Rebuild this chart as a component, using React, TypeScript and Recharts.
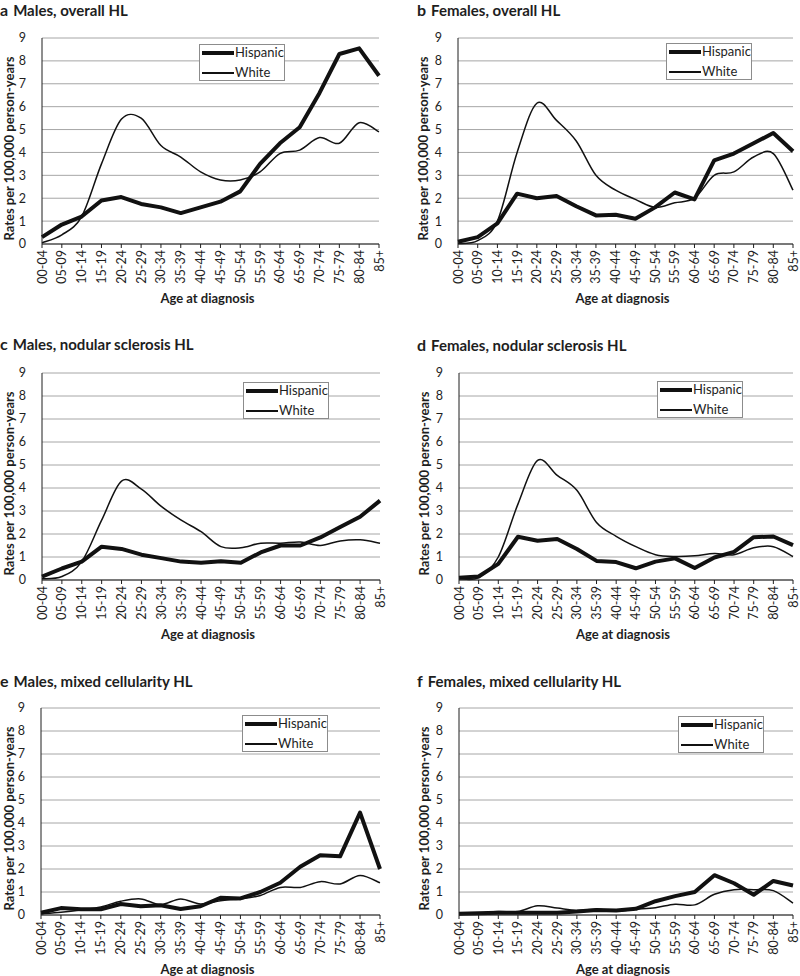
import { LineChart, Line, XAxis, YAxis, CartesianGrid } from 'recharts'

const ages = ['00-04', '05-09', '10-14', '15-19', '20-24', '25-29', '30-34', '35-39', '40-44', '45-49', '50-54', '55-59', '60-64', '65-69', '70-74', '75-79', '80-84', '85+']
const yTicks = [0, 1, 2, 3, 4, 5, 6, 7, 8, 9]

// a: males, overall
const aHispanic = [0.3, 0.85, 1.2, 1.9, 2.05, 1.75, 1.6, 1.35, 1.6, 1.85, 2.3, 3.5, 4.4, 5.1, 6.6, 8.3, 8.55, 7.35]
const aWhite = [0.05, 0.4, 1.2, 3.5, 5.45, 5.5, 4.3, 3.8, 3.15, 2.8, 2.8, 3.15, 3.95, 4.1, 4.65, 4.4, 5.3, 4.9]
// b: females, overall
const bHispanic = [0.1, 0.3, 0.9, 2.2, 2.0, 2.1, 1.65, 1.25, 1.28, 1.1, 1.6, 2.25, 1.95, 3.65, 3.95, 4.4, 4.85, 4.05]
const bWhite = [0.02, 0.15, 1.0, 4.0, 6.15, 5.4, 4.5, 3.0, 2.35, 1.95, 1.6, 1.8, 2.0, 3.0, 3.15, 3.8, 3.95, 2.35]
// c: males, nodular sclerosis
const cHispanic = [0.15, 0.5, 0.8, 1.45, 1.35, 1.1, 0.95, 0.8, 0.75, 0.82, 0.75, 1.2, 1.5, 1.5, 1.85, 2.3, 2.75, 3.45]
const cWhite = [0.05, 0.15, 0.8, 2.6, 4.3, 3.95, 3.2, 2.6, 2.1, 1.45, 1.4, 1.6, 1.6, 1.65, 1.5, 1.7, 1.75, 1.6]
// d: females, nodular sclerosis
const dHispanic = [0.1, 0.15, 0.7, 1.88, 1.71, 1.78, 1.35, 0.83, 0.78, 0.51, 0.8, 0.94, 0.52, 0.98, 1.22, 1.86, 1.89, 1.52]
const dWhite = [0.05, 0.1, 1.0, 3.3, 5.2, 4.55, 3.9, 2.5, 1.9, 1.45, 1.1, 1.02, 1.05, 1.15, 1.1, 1.4, 1.45, 1.02]
// e: males, mixed cellularity
const eHispanic = [0.1, 0.3, 0.25, 0.25, 0.48, 0.38, 0.42, 0.26, 0.38, 0.75, 0.72, 1.0, 1.4, 2.1, 2.6, 2.55, 4.45, 2.0]
const eWhite = [0.05, 0.12, 0.22, 0.35, 0.6, 0.7, 0.45, 0.7, 0.48, 0.62, 0.7, 0.85, 1.2, 1.2, 1.45, 1.35, 1.72, 1.4]
// f: females, mixed cellularity
const fHispanic = [0.05, 0.08, 0.1, 0.1, 0.1, 0.1, 0.15, 0.22, 0.2, 0.27, 0.6, 0.82, 1.0, 1.73, 1.38, 0.88, 1.48, 1.28]
const fWhite = [0.02, 0.08, 0.15, 0.15, 0.4, 0.3, 0.2, 0.25, 0.18, 0.25, 0.32, 0.47, 0.44, 0.9, 1.1, 1.1, 1.06, 0.52]

const FONT = 'Lato, "Open Sans", sans-serif'
const GRID = '#a6a6a6'
const INK = '#1e1e1e'

// excel style smoothing (catmull-rom through the points)
const excelSmooth = (context: any) => {
  let pts: number[][] = []
  return {
    areaStart() {},
    areaEnd() {},
    lineStart() { pts = [] },
    point(x: number, y: number) { pts.push([+x, +y]) },
    lineEnd() {
      const n = pts.length
      if (!n) return
      context.moveTo(pts[0][0], pts[0][1])
      for (let i = 0; i < n - 1; i++) {
        const p0 = pts[Math.max(i - 1, 0)]
        const p1 = pts[i]
        const p2 = pts[i + 1]
        const p3 = pts[Math.min(i + 2, n - 1)]
        context.bezierCurveTo(
          p1[0] + (p2[0] - p0[0]) / 6, p1[1] + (p2[1] - p0[1]) / 6,
          p2[0] - (p3[0] - p1[0]) / 6, p2[1] - (p3[1] - p1[1]) / 6,
          p2[0], p2[1],
        )
      }
    },
  }
}

function AgeTick(props: any) {
  const { x, y, payload } = props
  return (
    <text transform={`translate(${x},${y}) rotate(-90)`} textAnchor="end" dy="0.36em" fontSize={12.5} fontFamily={FONT} fill={INK}>
      {payload.value}
    </text>
  )
}

interface PanelProps {
  letter: string
  title: string
  left: number
  top: number
  titleX: number
  titleBase: number
  plot: { l: number; r: number; t: number; b: number }
  legend: { x: number; y: number }
  hispanic: number[]
  white: number[]
}

function Panel({ letter, title, left, top, titleX, titleBase, plot, legend, hispanic, white }: PanelProps) {
  const data = ages.map((age, i) => ({ age, hispanic: hispanic[i], white: white[i] }))
  const yw = 30
  const xh = 50
  const height = plot.b - top + xh
  const midX = (plot.l + plot.r) / 2
  const midY = (plot.t + plot.b) / 2
  const yTitleX = Math.max(plot.l - 35, 9)

  return (
    <>
      {/* panel title */}
      <div style={{ position: 'absolute', left: titleX, top: titleBase - 16.2, lineHeight: '20px', fontFamily: FONT, fontWeight: 700, color: INK, whiteSpace: 'nowrap', fontSize: 15 }}>
        <span style={{ fontSize: 16 }}>{letter}</span>
        <span style={{ marginLeft: 5 }}>{title}</span>
      </div>

      <div style={{ position: 'absolute', left, top }}>
        <LineChart width={400} height={height} data={data}
          margin={{ top: plot.t - top, left: plot.l - left - yw, right: left + 400 - plot.r, bottom: 0 }}>
          <CartesianGrid vertical={false} stroke={GRID} strokeWidth={1} />
          <XAxis dataKey="age" interval={0} height={xh} tick={<AgeTick />} tickSize={4} tickMargin={2}
            axisLine={{ stroke: INK }} tickLine={{ stroke: INK }} />
          <YAxis width={yw} domain={[0, 9]} ticks={yTicks} interval={0} tickLine={false} tickMargin={10}
            axisLine={{ stroke: INK }} tick={{ fontSize: 12.5, fontFamily: FONT, fill: INK }} />
          <Line dataKey="hispanic" type="linear" stroke="#111" strokeWidth={4} strokeLinejoin="round" dot={false} isAnimationActive={false} />
          <Line dataKey="white" type={excelSmooth as any} stroke="#111" strokeWidth={1.5} dot={false} isAnimationActive={false} />
        </LineChart>
      </div>

      {/* y axis title */}
      <div style={{ position: 'absolute', left: yTitleX - 110, top: midY + 7 - 6.5, width: 220, height: 13, lineHeight: '13px', textAlign: 'center', transform: 'rotate(-90deg)', fontFamily: FONT, fontWeight: 700, fontSize: 13, color: INK, whiteSpace: 'nowrap' }}>
        Rates per 100,000 person-years
      </div>

      {/* x axis title */}
      <div style={{ position: 'absolute', left: midX - 100 - 3, top: plot.b + 46, width: 200, textAlign: 'center', fontFamily: FONT, fontWeight: 700, fontSize: 13, color: INK }}>
        Age at diagnosis
      </div>

      {/* legend */}
      <div style={{ position: 'absolute', left: legend.x, top: legend.y, width: 86, height: 37, boxSizing: 'border-box', border: '1px solid #8c8c8c', background: '#fff', fontFamily: FONT, fontSize: 13, color: INK }}>
        <div style={{ position: 'absolute', left: 2, top: 6, width: 32, height: 4, background: '#111' }} />
        <div style={{ position: 'absolute', left: 35, top: -1 }}>Hispanic</div>
        <div style={{ position: 'absolute', left: 2, top: 27, width: 32, height: 1.5, background: '#111' }} />
        <div style={{ position: 'absolute', left: 35, top: 19 }}>White</div>
      </div>
    </>
  )
}

export default function App() {
  return (
    <div style={{ position: 'absolute', left: 0, top: 0, width: 800, height: 976, background: '#fff', overflow: 'hidden' }}>
      <Panel letter="a" title="Males, overall HL" left={0} top={0} titleX={0} titleBase={16.5} plot={{ l: 42, r: 379, t: 38, b: 244 }} legend={{ x: 199, y: 44 }} hispanic={aHispanic} white={aWhite} />
      <Panel letter="b" title="Females, overall HL" left={400} top={0} titleX={417} titleBase={16.5} plot={{ l: 458, r: 793, t: 38, b: 244 }} legend={{ x: 666, y: 43 }} hispanic={bHispanic} white={bWhite} />
      <Panel letter="c" title="Males, nodular sclerosis HL" left={0} top={337} titleX={0} titleBase={350} plot={{ l: 42, r: 380, t: 373, b: 580 }} legend={{ x: 243, y: 382 }} hispanic={cHispanic} white={cWhite} />
      <Panel letter="d" title="Females, nodular sclerosis HL" left={400} top={337} titleX={417} titleBase={351} plot={{ l: 459, r: 793, t: 373, b: 580 }} legend={{ x: 657, y: 381 }} hispanic={dHispanic} white={dWhite} />
      <Panel letter="e" title="Males, mixed cellularity HL" left={0} top={673} titleX={0} titleBase={687} plot={{ l: 41, r: 380, t: 708, b: 915 }} legend={{ x: 242, y: 715 }} hispanic={eHispanic} white={eWhite} />
      <Panel letter="f" title="Females, mixed cellularity HL" left={400} top={673} titleX={417} titleBase={687} plot={{ l: 459, r: 793, t: 708, b: 915 }} legend={{ x: 678, y: 716 }} hispanic={fHispanic} white={fWhite} />
    </div>
  )
}
